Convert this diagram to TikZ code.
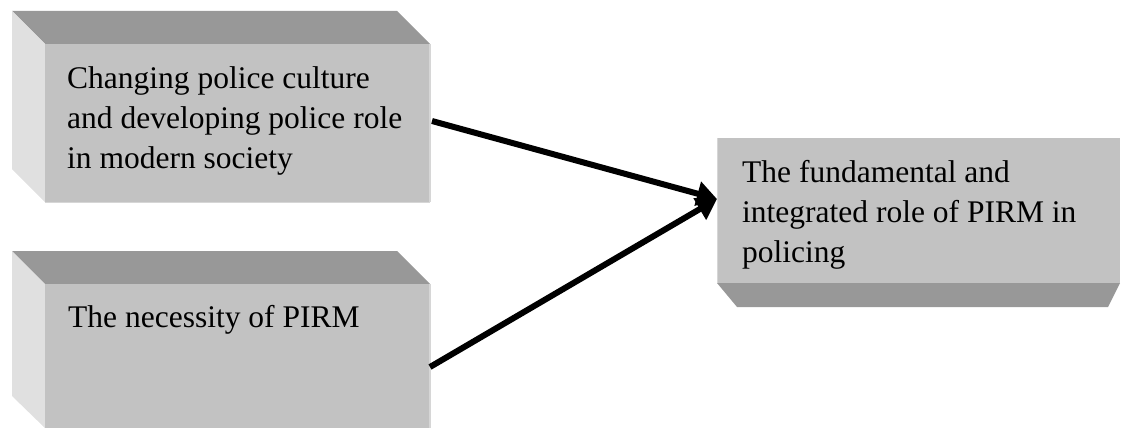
\documentclass[tikz,border=0pt]{standalone}
\usepackage{fontspec}
\setmainfont{Liberation Serif}
\usetikzlibrary{arrows.meta}
\definecolor{frontc}{HTML}{C2C2C2}
\definecolor{topc}{HTML}{989898}
\definecolor{sidec}{HTML}{E0E0E0}
\definecolor{edgec}{HTML}{D6D6D6}
\tikzset{
  face/.style={fill=frontc, draw=none, inner sep=0pt, outer sep=0pt, anchor=north west},
  bevtop/.style={fill=topc},
  bevside/.style={fill=sidec},
  label/.style={anchor=base west, align=left, inner sep=0pt, font=\fontsize{31.5}{40}\selectfont},
  conn/.style={line width=6pt, -{Triangle[length=20pt,width=24pt]}, black}
}
\begin{document}
\begin{tikzpicture}[x=1pt,y=-1pt]
\useasboundingbox (0,0) rectangle (1121,428);
% box 1
\fill[bevtop] (12,11) -- (45,44) -- (430,44) -- (397,11) -- cycle;
\fill[bevside] (12,11) -- (45,44) -- (45,202) -- (12,169) -- cycle;
\node[face, minimum width=385pt, minimum height=158pt] (b1) at (45,44) {};
\draw[edgec, line width=1.5pt] (b1.north east) -- (b1.south east);
\draw[edgec, line width=1pt] (b1.south west) -- (b1.south east);
% box 2
\fill[bevtop] (12,251) -- (45,284) -- (430,284) -- (397,251) -- cycle;
\fill[bevside] (12,251) -- (45,284) -- (45,428) -- (12,396) -- cycle;
\node[face, minimum width=385pt, minimum height=144pt] (b2) at (45,284) {};
\draw[edgec, line width=1.5pt] (b2.north east) -- (b2.south east);
% box 3
\fill[bevtop] (717,283) -- (1120,283) -- (1108,307) -- (737,307) -- cycle;
\node[face, minimum width=403pt, minimum height=145pt] (b3) at (717,138) {};
\draw[edgec, line width=1pt] (b3.north west) -- (b3.south west);
% texts
\node[label] (t1) at (67,168) {Changing police culture\\and developing police role\\in modern society};
\node[label] (t2) at (68,327) {The necessity of PIRM};
\node[label] (t3) at (742,262) {The fundamental and\\integrated role of PIRM in\\policing};
% connectors
\coordinate (tip) at ([yshift=11.5pt]b3.west);
\draw[conn] ([xshift=2pt,yshift=2pt]b1.east) -- (tip);
\draw[conn] ([yshift=-11pt]b2.east) -- (tip);
\end{tikzpicture}
\end{document}
